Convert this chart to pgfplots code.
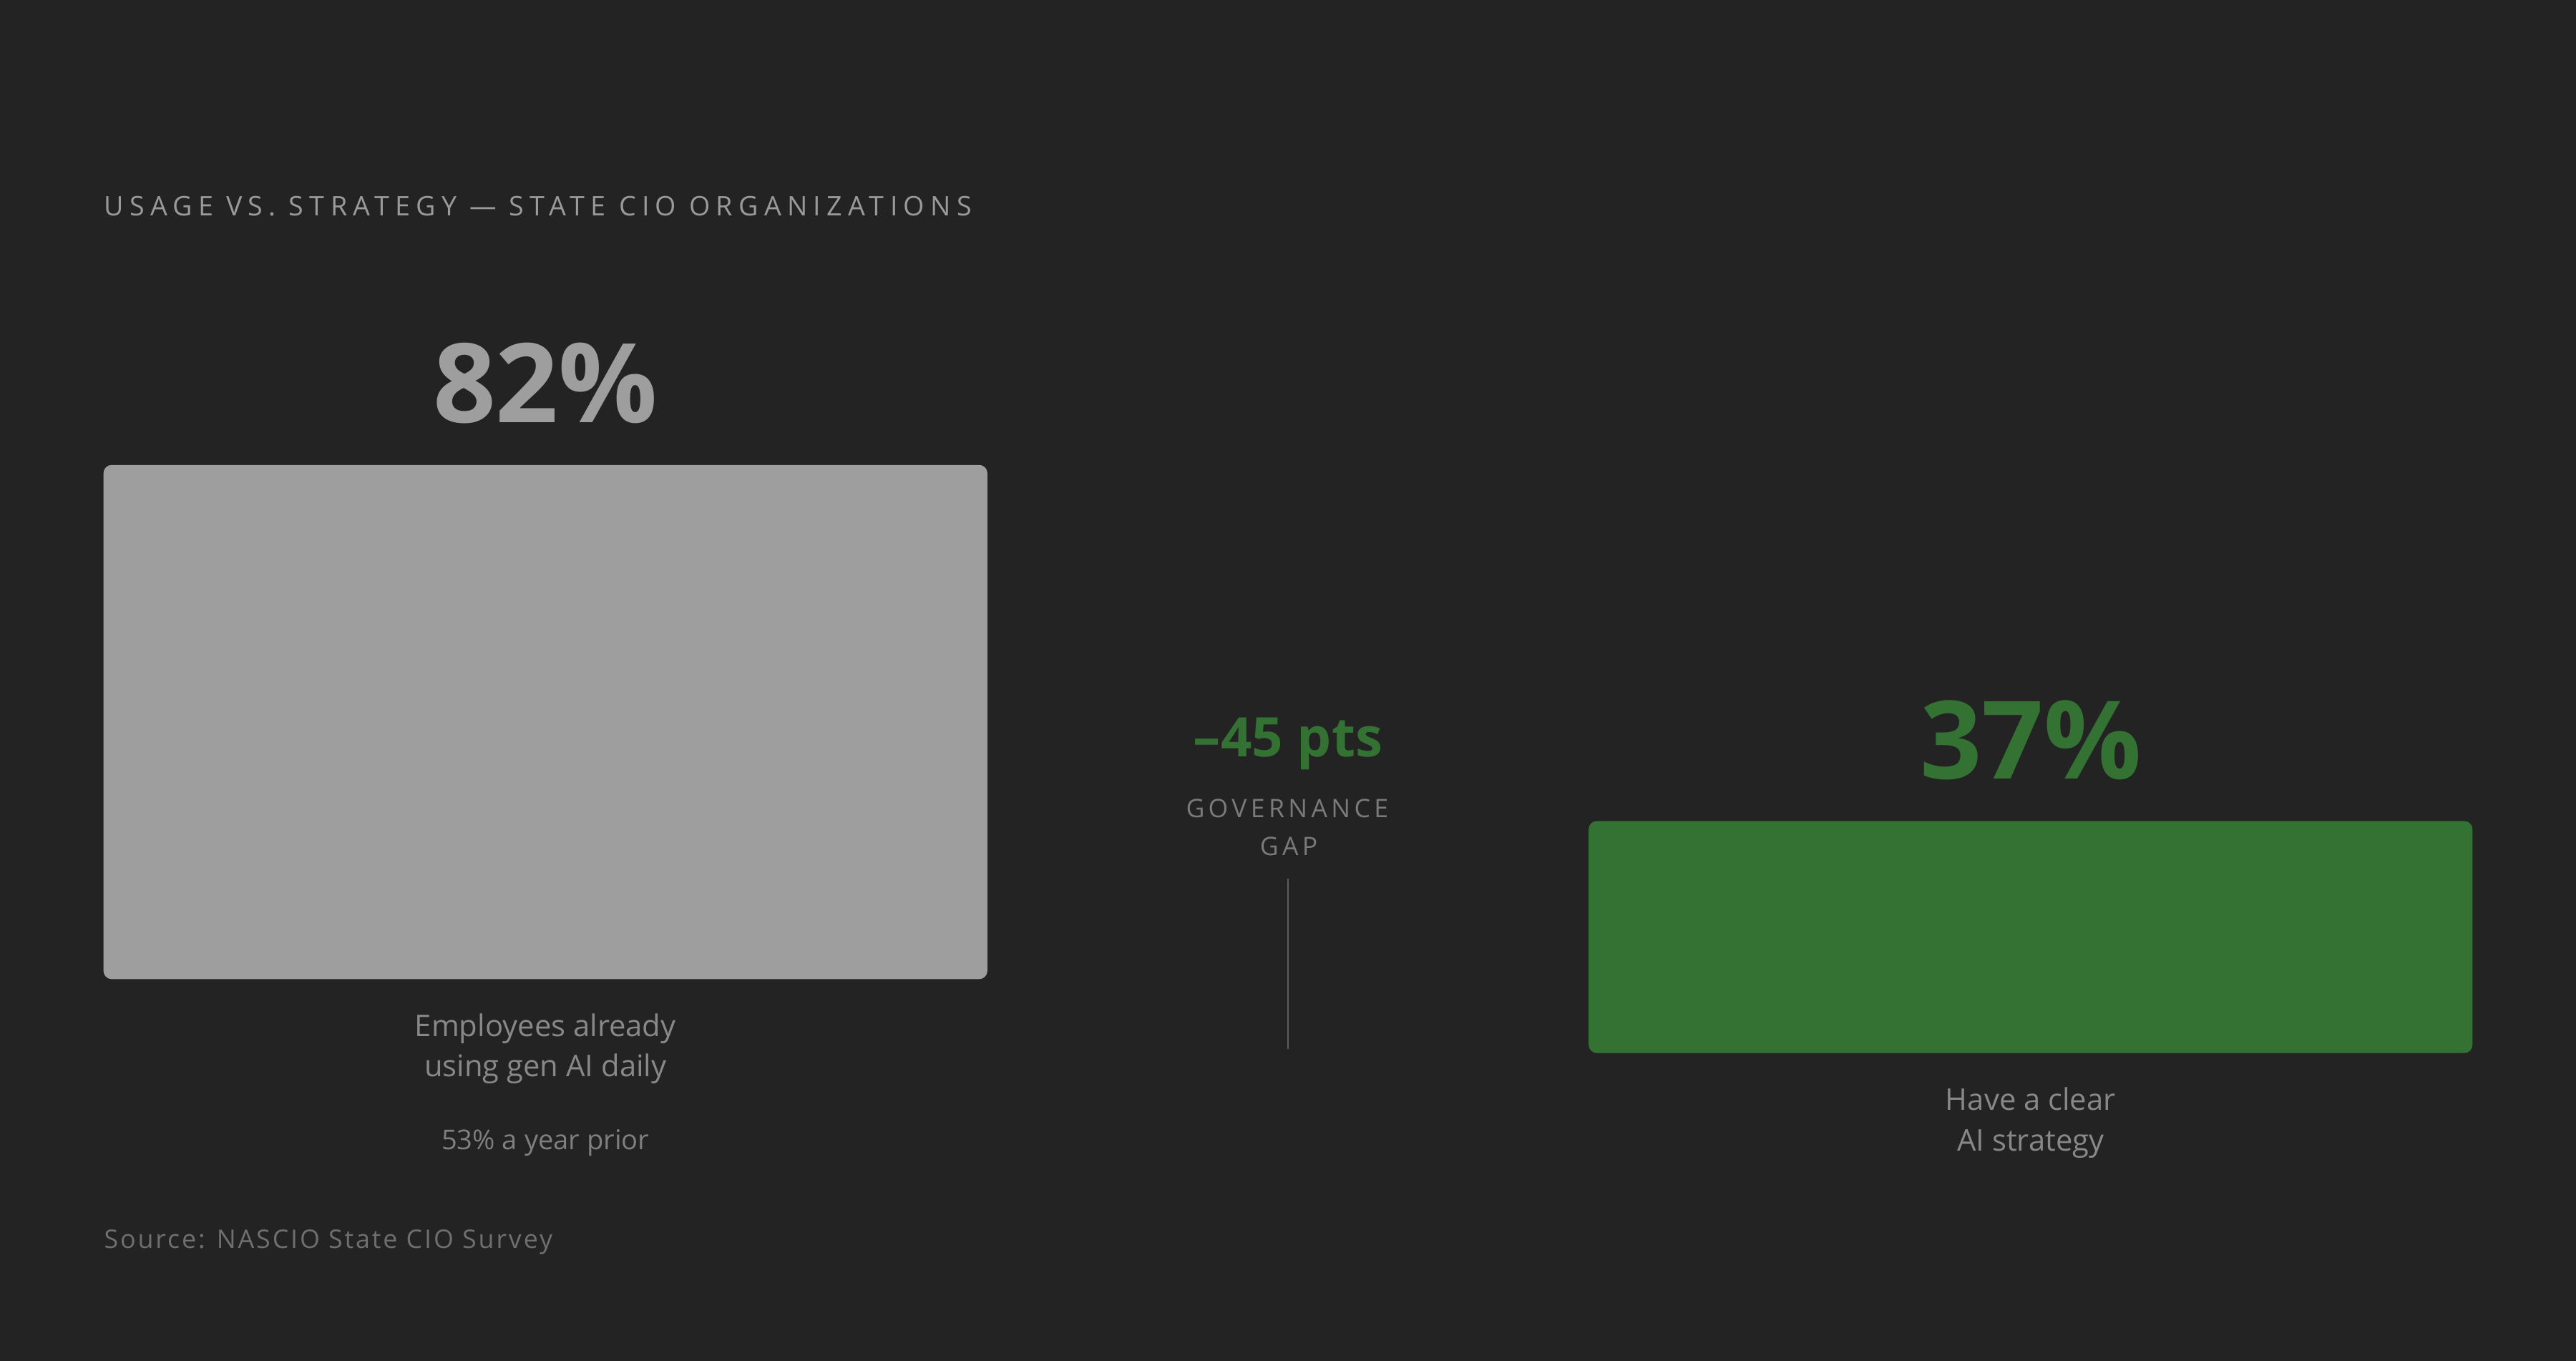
\documentclass[border=0pt]{standalone}
\usepackage{fontspec}
\setmainfont{Open Sans}
\usepackage{pgfplots}
\pgfplotsset{compat=1.18}
\definecolor{bg}{HTML}{232323}
\definecolor{barg}{HTML}{9E9E9E}
\definecolor{greenc}{HTML}{347234}
\definecolor{titlec}{HTML}{9A9A9A}
\definecolor{labelc}{HTML}{888888}
\definecolor{subc}{HTML}{7F7F7F}
\definecolor{govc}{HTML}{7A7A7A}
\definecolor{srcc}{HTML}{6F6F6F}
\definecolor{linec}{HTML}{5E5E5E}
\begin{document}
\begin{tikzpicture}[x=0.5pt,y=0.5pt]
\useasboundingbox (0,0) rectangle (1568,828);
\fill[bg] (-6,-6) rectangle (1574,834);
\coordinate (LB) at (63,232);
\coordinate (RB) at (967,187);
\node[anchor=base west, inner sep=0pt, text=titlec, font=\fontsize{8.2}{10}\selectfont\addfontfeatures{LetterSpace=22}] at (63,696.5) {USAGE VS. STRATEGY — STATE CIO ORGANIZATIONS};

% left labels
\node[anchor=base, inner sep=0pt, text=labelc, font=\fontsize{9.1}{11}\selectfont] at (332,197.2) {Employees already};
\node[anchor=base, inner sep=0pt, text=labelc, font=\fontsize{9.1}{11}\selectfont] at (332,172.5) {using gen AI daily};
\node[anchor=base, inner sep=0pt, text=subc, font=\fontsize{8.3}{10}\selectfont] at (332,128.2) {53\% a year prior};

% right labels
\node[anchor=base, inner sep=0pt, text=labelc, font=\fontsize{9.1}{11}\selectfont] at (1236,152.2) {Have a clear};
\node[anchor=base, inner sep=0pt, text=labelc, font=\fontsize{9.1}{11}\selectfont] at (1236,127.6) {AI strategy};

% gap annotation
\node[anchor=base, inner sep=0pt, text=greenc, font=\fontsize{16.6}{20}\selectfont\bfseries] at (784,367.6) {–45 pts};
\node[anchor=base, inner sep=0pt, text=govc, font=\fontsize{7.75}{10}\selectfont\addfontfeatures{LetterSpace=15}] at (783.5,330.5) {GOVERNANCE};
\node[anchor=base, inner sep=0pt, text=govc, font=\fontsize{7.75}{10}\selectfont\addfontfeatures{LetterSpace=15}] at (784.5,307.5) {GAP};
\draw[linec, line width=0.45pt] (784,293.2) -- (784,189.3);

% source
\node[anchor=base west, inner sep=0pt, text=srcc, font=\fontsize{7.8}{10}\selectfont\addfontfeatures{LetterSpace=8}] at (63,68) {Source: NASCIO State CIO Survey};

% left bar
\begin{axis}[at={(LB)}, anchor=south west, width=269pt, height=156.5pt,
  scale only axis, hide axis, xmin=0, xmax=1, ymin=0, ymax=82,
  enlargelimits=false, clip=false, ybar, bar width=269pt, bar shift=0pt,
  nodes near coords={\pgfmathprintnumber[assume math mode=true]{\pgfplotspointmeta}\%},
  every node near coord/.append style={anchor=base, yshift=12.8pt, inner sep=0pt, text=barg, font=\fontsize{33.5}{40}\selectfont\bfseries}]
\addplot[fill=barg, draw=none, rounded corners=2.5pt] coordinates {(0.5,82)};
\end{axis}

% right bar
\begin{axis}[at={(RB)}, anchor=south west, width=269pt, height=70.62pt,
  scale only axis, hide axis, xmin=0, xmax=1, ymin=0, ymax=37,
  enlargelimits=false, clip=false, ybar, bar width=269pt, bar shift=0pt,
  nodes near coords={\pgfmathprintnumber[assume math mode=true]{\pgfplotspointmeta}\%},
  every node near coord/.append style={anchor=base, yshift=12.8pt, inner sep=0pt, text=greenc, font=\fontsize{33}{40}\selectfont\bfseries}]
\addplot[fill=greenc, draw=none, rounded corners=2.5pt] coordinates {(0.5,37)};
\end{axis}
\end{tikzpicture}
\end{document}
